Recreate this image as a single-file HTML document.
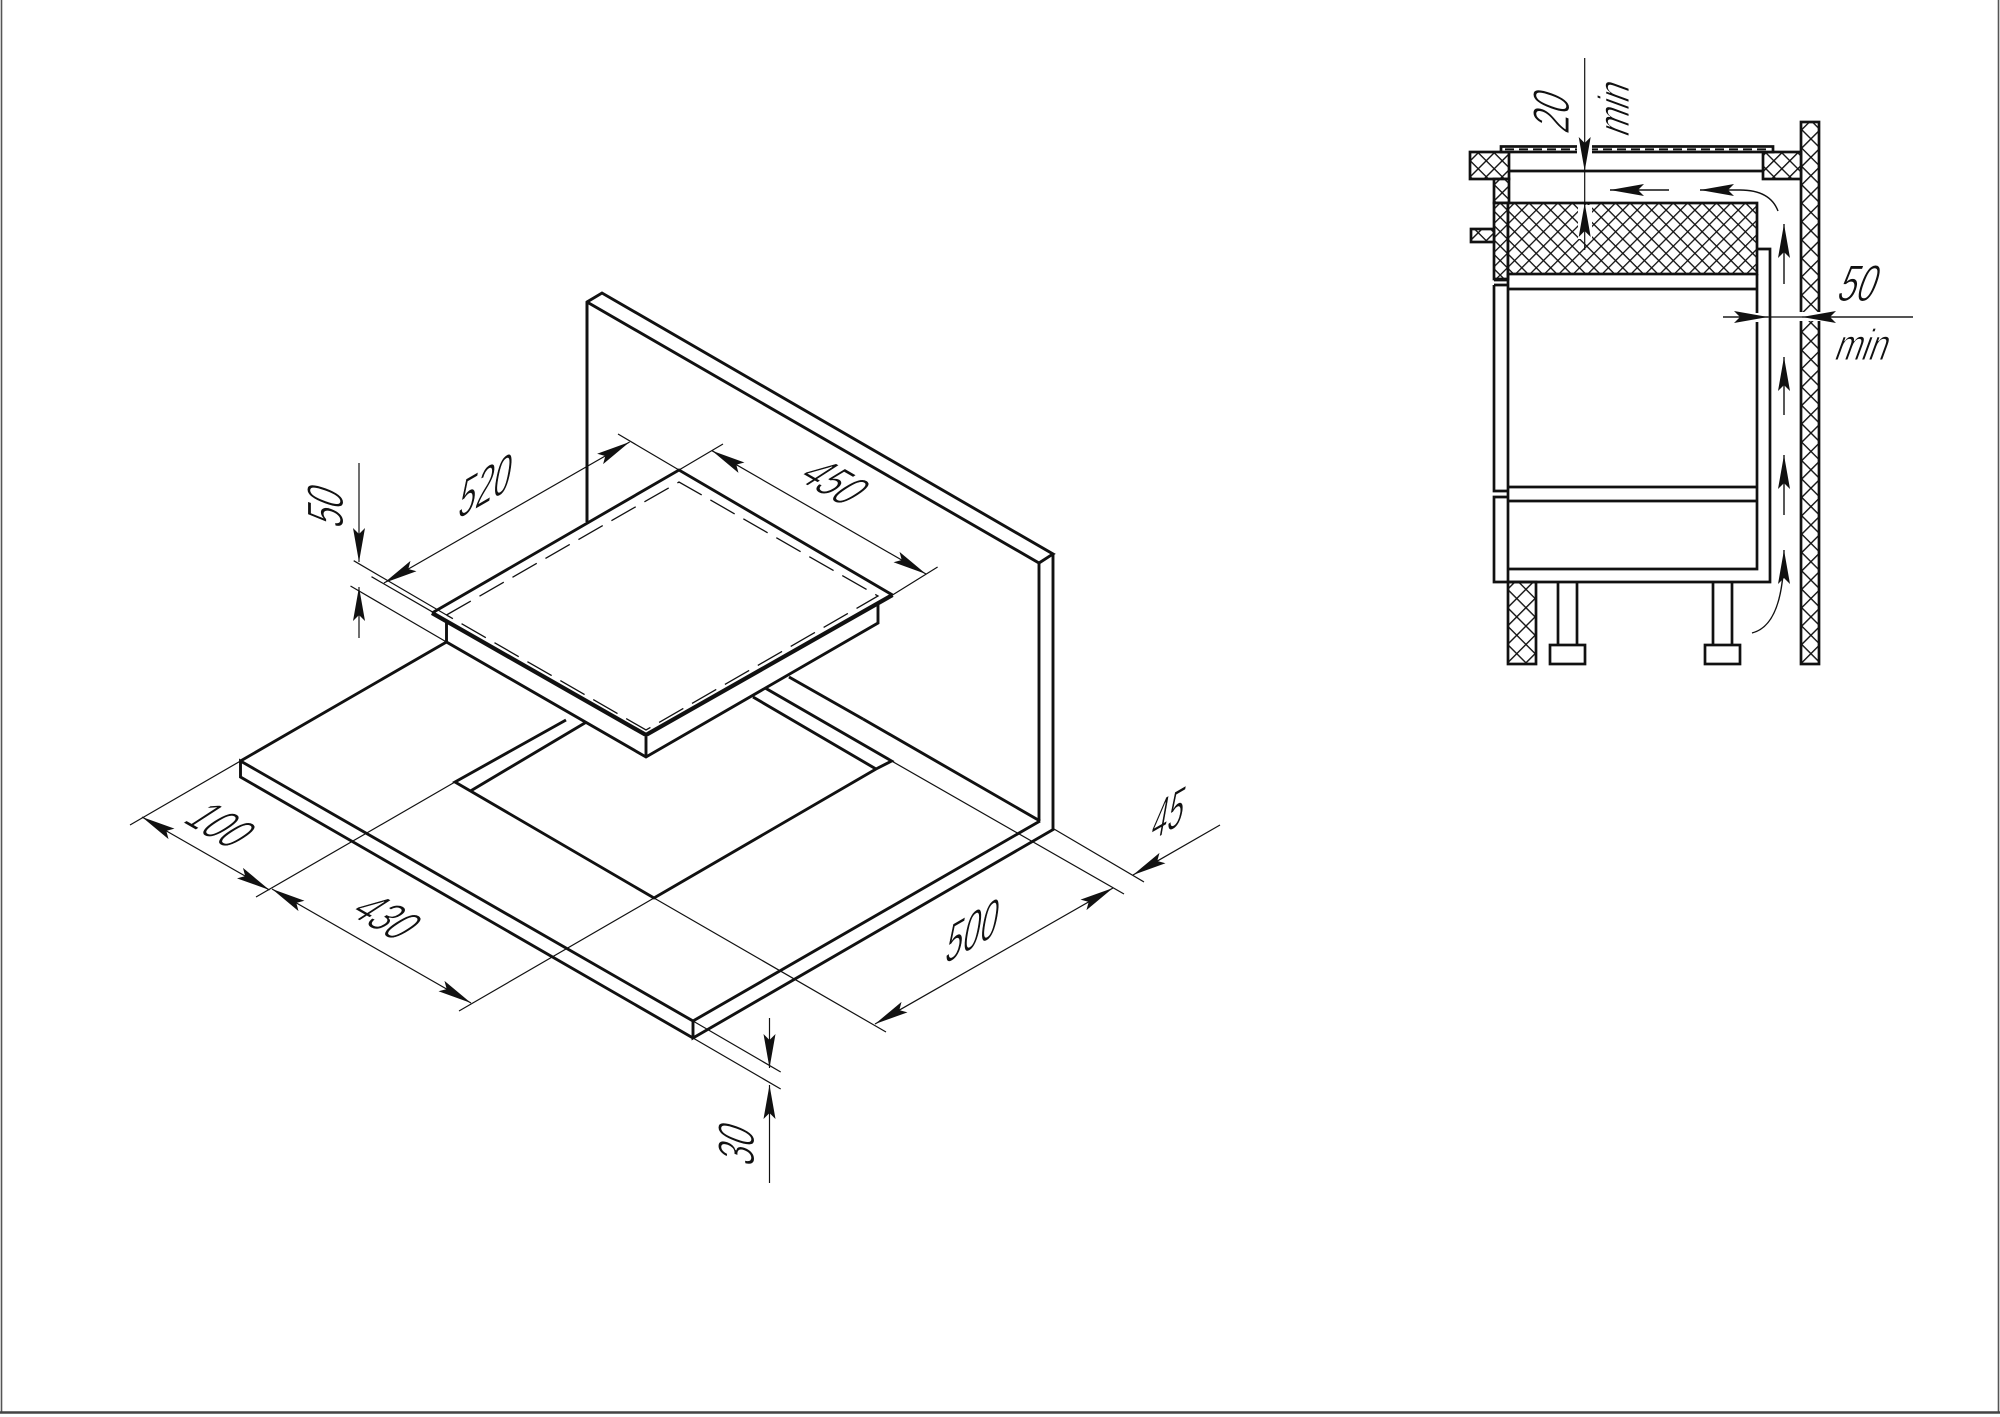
<!DOCTYPE html>
<html><head><meta charset="utf-8"><style>
html,body{margin:0;padding:0;background:#fff}
svg{display:block}
text{font-family:"Liberation Sans",sans-serif;fill:#111;stroke:#fff;stroke-width:.9;text-anchor:middle}
.k{fill:none;stroke:#111;stroke-width:2.9;stroke-linejoin:miter}
.h{fill:none;stroke:#111;stroke-width:4.2}
.t{fill:none;stroke:#111;stroke-width:1.2}
.s{fill:none;stroke:#111;stroke-width:2.7}
.a{marker-start:url(#m);marker-end:url(#m)}
.e{marker-end:url(#m)}
</style></head><body>
<svg width="2000" height="1417" viewBox="0 0 2000 1417" xmlns="http://www.w3.org/2000/svg">
<defs>
<marker id="m" markerUnits="userSpaceOnUse" markerWidth="40" markerHeight="16" refX="36" refY="8" orient="auto-start-reverse" viewBox="0 0 40 16"><path d="M36,8 L2,2 L8,8 L2,14 Z" fill="#111"/></marker>
<pattern id="w" width="13" height="13" patternUnits="userSpaceOnUse" patternTransform="rotate(45 0 0)"><rect width="13" height="13" fill="#fff"/><path d="M0,0H13M0,0V13" stroke="#111" stroke-width="2.8"/></pattern>
<pattern id="b" width="11.3" height="11.3" patternUnits="userSpaceOnUse" patternTransform="rotate(45 0 0)"><rect width="11.3" height="11.3" fill="#fff"/><path d="M0,0H11.3M0,0V11.3" stroke="#111" stroke-width="2.8"/></pattern>
<pattern id="o" width="10.2" height="10.2" patternUnits="userSpaceOnUse" patternTransform="rotate(45 0 0)"><rect width="10.2" height="10.2" fill="#fff"/><path d="M0,0H10.2M0,0V10.2" stroke="#111" stroke-width="2.6"/></pattern>
</defs>
<rect width="2000" height="1417" fill="#fff"/>
<path d="M1.5,0V1412M1998.5,0V1412" stroke="#555" stroke-width="1.6" fill="none"/>
<path d="M0,1412.5H2000" stroke="#444" stroke-width="2.4" fill="none"/>

<!-- isometric: back panel -->
<path class="k" d="M587,522V302L602,293L1053,554L1039,563L587,302M1039,563V821M1053,554V829"/>
<path class="k" d="M1040,821L863,719M1040,821L693,1021M1054,829L693,1038V1021L240.5,761V777L693,1038M240.5,761L446.5,642"/>
<!-- cutout -->
<path class="k" d="M566,720L455,782L470.5,791L654,898L876,769L891.6,761L753,681M586.5,722L470.5,791M876,769L753,697"/>
<path class="k" d="M789,677L863,719"/>
<!-- hob -->
<polygon points="446.5,615 646,735 878,607 878,623 646,757 446.5,642" fill="#fff"/>
<polygon points="679,470 892.5,595 646,735 432,613" fill="#fff"/>
<path class="k" d="M587,522V302"/>
<path class="k" d="M432,613L679,470L892.5,595"/>
<path class="h" d="M432,613L646,735L892.5,595"/>
<path class="k" d="M446.5,620V642L646,757L878,623V604M646,737V757"/>
<path class="t" stroke-dasharray="28 10" d="M446.5,615L679,482L878,596L646,730L446.5,615" style="stroke-width:1.3"/>
<!-- iso dims -->
<path class="t" d="M353.7,560.7L446.5,615M350.5,586L446.5,642M371.5,576.7L432,611.7M618,434L679,470M723,444L679,470M892.5,595L937.6,567"/>
<path class="t a" d="M384,583L629.6,442"/>
<path class="t a" d="M712,450.7L926,574"/>
<path class="t e" d="M359,463V562"/>
<path class="t e" d="M359,638V587"/>
<path class="t" d="M240.5,761L130,825M455,782L256,897M654,898L459,1011M654,898L886,1032M891.6,761L1124,894M1054,829L1144,882"/>
<path class="t a" d="M142,817L269.5,890"/>
<path class="t a" d="M272,889L471,1003"/>
<path class="t a" d="M875,1024L1113,888"/>
<path class="t e" d="M1220,825L1133,875"/>
<path class="t" d="M693,1021L780.7,1072M693,1038L780.7,1089"/>
<path class="t e" d="M769.5,1018V1068"/>
<path class="t e" d="M769.5,1183V1085"/>

<g font-size="46">
<text y="16" transform="translate(325,505) rotate(-90) skewX(-20) scale(.72,1.12)">50</text>
<text y="16" transform="translate(486,485) rotate(-30) skewX(-40) scale(.78,.98)">520</text>
<text y="16" transform="translate(835,482) rotate(30) skewX(-27) scale(.72,1.06)">450</text>
<text y="16" transform="translate(221,825) rotate(30) skewX(-27) scale(.72,1.06)">100</text>
<text y="16" transform="translate(387,917) rotate(30) skewX(-27) scale(.72,1.06)">430</text>
<text y="16" transform="translate(973,930) rotate(-30) skewX(-40) scale(.78,.98)">500</text>
<text y="16" transform="translate(1169,813) rotate(-30) skewX(-40) scale(.72,.98)">45</text>
<text y="16" transform="translate(736,1143) rotate(-90) skewX(-20) scale(.72,1.12)">30</text>
<text y="16" transform="translate(1551,110) rotate(-90) skewX(-20) scale(.72,1.12)">20</text>
<text y="16" transform="translate(1860,283) skewX(-20) scale(.72,1.12)">50</text>
<text y="12" transform="translate(1617,108) rotate(-90) skewX(-20) scale(.73,1) " font-size="44">min</text>
<text y="12" transform="translate(1863,348) skewX(-20) scale(.73,1)" font-size="44">min</text>
</g>

<!-- section -->
<rect x="1801" y="122" width="18" height="542" class="s" style="fill:url(#w)"/>
<rect x="1470" y="152" width="39" height="27" class="s" style="fill:url(#b)"/>
<rect x="1763" y="152" width="38" height="27" class="s" style="fill:url(#b)"/>
<rect x="1494" y="179" width="15" height="24" class="s" style="fill:url(#b)"/>
<rect x="1494" y="203" width="14" height="76" class="s" style="fill:url(#o)"/>
<rect x="1508" y="203" width="249" height="71" class="s" style="fill:url(#o)"/>
<rect x="1471" y="229" width="23" height="13" class="s" style="fill:url(#b)"/>
<rect x="1508" y="582" width="28" height="82" class="s" style="fill:url(#w)"/>
<rect x="1501" y="146.5" width="272" height="5.5" class="s" style="fill:#fff"/>
<path d="M1505,149.3H1770" stroke="#111" stroke-width="1.8" stroke-dasharray="9 5" fill="none"/>
<path class="s" d="M1509,171H1763"/>
<path class="s" d="M1757,249H1770V582H1494V497H1508M1494,285V491H1508M1494,280H1508M1494,285H1508M1508,274V582M1757,274V569H1508M1508,289H1757M1508,487H1757M1508,501H1757"/>
<path class="s" d="M1558,582V645M1577,582V645M1713,582V645M1732,582V645"/>
<rect class="s" x="1550" y="645" width="35" height="19" style="fill:#fff"/>
<rect class="s" x="1705" y="645" width="35" height="19" style="fill:#fff"/>
<!-- gaps -->
<rect x="1577" y="144" width="15" height="10" fill="#fff"/>
<rect x="1578" y="205" width="14" height="34" fill="#fff"/>
<rect x="1798" y="312" width="24" height="9" fill="#fff"/>
<rect x="1754" y="313" width="6" height="9" fill="#fff"/>
<!-- section dims -->
<path class="t e" d="M1584.7,58V171"/>
<path class="t e" d="M1584.7,250V203"/>
<path class="t" d="M1584.7,171V203"/>
<path class="t" d="M1723,317H1913"/>
<path class="t e" d="M1723,317H1768"/>
<path class="t e" d="M1913,317H1802"/>
<!-- air arrows -->
<path class="t e" style="stroke-width:1.4" d="M1784,284V224"/>
<path class="t e" style="stroke-width:1.4" d="M1784,415V357"/>
<path class="t e" style="stroke-width:1.4" d="M1784,515V455"/>
<path class="t e" style="stroke-width:1.4" d="M1752,633Q1784,625 1784,550"/>
<path class="t e" style="stroke-width:1.4" d="M1669,190H1610"/>
<path class="t e" style="stroke-width:1.4" d="M1778,211Q1770,190 1740,190H1700"/>
</svg>
</body></html>
